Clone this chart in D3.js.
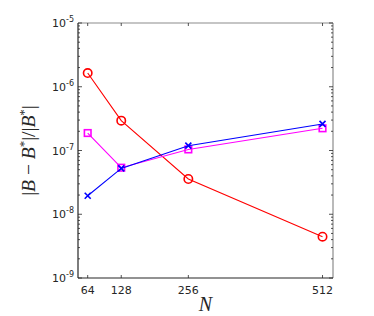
<!DOCTYPE html>
<html>
<head>
<meta charset="utf-8">
<script src="https://cdn.jsdelivr.net/npm/d3@7"></script>
<style>
  body { margin: 0; background: white; }
  svg { display: block; }
</style>
</head>
<body>
<script>
// data
const N = [64, 128, 256, 512];
const errCircle = [1.64e-6, 2.94e-7, 3.57e-8, 4.45e-9];
const errSquare = [1.88e-7, 5.37e-8, 1.04e-7, 2.23e-7];
const errCross = [1.95e-8, 5.24e-8, 1.19e-7, 2.61e-7];
const yTickExp = [-9, -8, -7, -6, -5];

const width = 374, height = 316;
const margin = {top: 23, right: 41, bottom: 38, left: 78};
const innerWidth = width - margin.left - margin.right;
const innerHeight = height - margin.top - margin.bottom;

const svg = d3.select("body").append("svg").attr("width", width).attr("height", height);
const g = svg.append("g").attr("transform", `translate(${margin.left},${margin.top})`);

const xScale = d3.scaleLinear().domain([45.5, 532]).range([0, innerWidth]);
const yScale = d3.scaleLog().domain([1e-9, 1e-5]).range([innerHeight, 0]);

const axisColor = "#262626";

// box
g.append("line").attr("x1", 0).attr("x2", innerWidth).attr("y1", 0).attr("y2", 0)
  .attr("stroke", "#8c8c8c").attr("stroke-width", 1.2);
g.append("line").attr("x1", innerWidth).attr("x2", innerWidth).attr("y1", 0).attr("y2", innerHeight)
  .attr("stroke", "#8c8c8c").attr("stroke-width", 1.2);

// minor ticks on log axis
const minor = [];
for (let e = -9; e < -5; e++) for (let k = 2; k <= 9; k++) minor.push(k * Math.pow(10, e));

[0, innerWidth].forEach((x0, i) => {
  const dir = i === 0 ? 1 : -1;
  g.selectAll(null).data(minor).join("line")
    .attr("x1", x0).attr("x2", x0 + dir * 2)
    .attr("y1", d => yScale(d)).attr("y2", d => yScale(d))
    .attr("stroke", axisColor).attr("stroke-width", 0.8);
  g.selectAll(null).data(yTickExp).join("line")
    .attr("x1", x0).attr("x2", x0 + dir * 4)
    .attr("y1", d => yScale(Math.pow(10, d))).attr("y2", d => yScale(Math.pow(10, d)))
    .attr("stroke", axisColor).attr("stroke-width", 0.8);
});

// x ticks, bottom and top
[innerHeight, 0].forEach((y0, i) => {
  const dir = i === 0 ? -1 : 1;
  g.selectAll(null).data(N).join("line")
    .attr("x1", d => xScale(d)).attr("x2", d => xScale(d))
    .attr("y1", y0).attr("y2", y0 + dir * 3)
    .attr("stroke", axisColor).attr("stroke-width", 0.8);
});

// left & bottom axis lines
g.append("line").attr("x1", 0).attr("x2", 0).attr("y1", 0).attr("y2", innerHeight)
  .attr("stroke", axisColor).attr("stroke-width", 1.2);
g.append("line").attr("x1", 0).attr("x2", innerWidth).attr("y1", innerHeight).attr("y2", innerHeight)
  .attr("stroke", axisColor).attr("stroke-width", 1.2);

// tick labels
g.selectAll("text.xt").data(N).join("text").attr("class", "xt")
  .attr("x", d => xScale(d)).attr("y", innerHeight + 16)
  .attr("text-anchor", "middle").attr("font-family", "DejaVu Sans, sans-serif")
  .attr("font-size", 11).attr("fill", axisColor).text(d => d);

const yt = g.selectAll("text.yt").data(yTickExp).join("text").attr("class", "yt")
  .attr("x", -4).attr("y", d => yScale(Math.pow(10, d)) + 4)
  .attr("text-anchor", "end").attr("font-family", "DejaVu Sans, sans-serif")
  .attr("font-size", 11).attr("fill", axisColor);
yt.append("tspan").text("10");
yt.append("tspan").attr("dy", -5).attr("font-size", 8).text(d => "-" + Math.abs(d));

// series
const line = d3.line().x(d => xScale(d[0])).y(d => yScale(d[1]));
const series = [
  {vals: errCircle, color: "#ff0000", marker: "circle"},
  {vals: errSquare, color: "#ff00ff", marker: "square"},
  {vals: errCross, color: "#0000ff", marker: "cross"}
];

series.forEach(s => {
  const pts = N.map((n, i) => [n, s.vals[i]]);
  g.append("path").datum(pts).attr("d", line)
    .attr("fill", "none").attr("stroke", s.color).attr("stroke-width", 1.1);
  const m = g.selectAll(null).data(pts).join("g")
    .attr("transform", d => `translate(${xScale(d[0])},${yScale(d[1])})`);
  if (s.marker === "circle") {
    m.append("circle").attr("r", 4.2).attr("fill", "none")
      .attr("stroke", s.color).attr("stroke-width", 1.6);
  } else if (s.marker === "square") {
    m.append("rect").attr("x", -3.3).attr("y", -3.3).attr("width", 6.6).attr("height", 6.6)
      .attr("fill", "none").attr("stroke", s.color).attr("stroke-width", 1.6);
  } else {
    m.append("path").attr("d", "M-3,-3L3,3M-3,3L3,-3")
      .attr("stroke", s.color).attr("stroke-width", 1.6);
  }
});

// axis labels
svg.append("text").attr("x", margin.left + innerWidth / 2).attr("y", 311)
  .attr("text-anchor", "middle").attr("font-family", "Liberation Serif, serif")
  .attr("font-style", "italic").attr("font-size", 20).attr("fill", axisColor).text("N");

const yl = svg.append("text")
  .attr("transform", `translate(35,${margin.top + innerHeight / 2}) rotate(-90)`)
  .attr("text-anchor", "middle").attr("font-family", "Liberation Serif, serif")
  .attr("font-size", 19.5).attr("fill", axisColor);
yl.append("tspan").text("|");
yl.append("tspan").attr("font-style", "italic").text("B");
yl.append("tspan").text(" − ");
yl.append("tspan").attr("font-style", "italic").text("B");
yl.append("tspan").attr("dy", -7).attr("font-size", 13).text("*");
yl.append("tspan").attr("dy", 7).text("|/|");
yl.append("tspan").attr("font-style", "italic").text("B");
yl.append("tspan").attr("dy", -7).attr("font-size", 13).text("*");
yl.append("tspan").attr("dy", 7).text("|");
</script>
</body>
</html>
